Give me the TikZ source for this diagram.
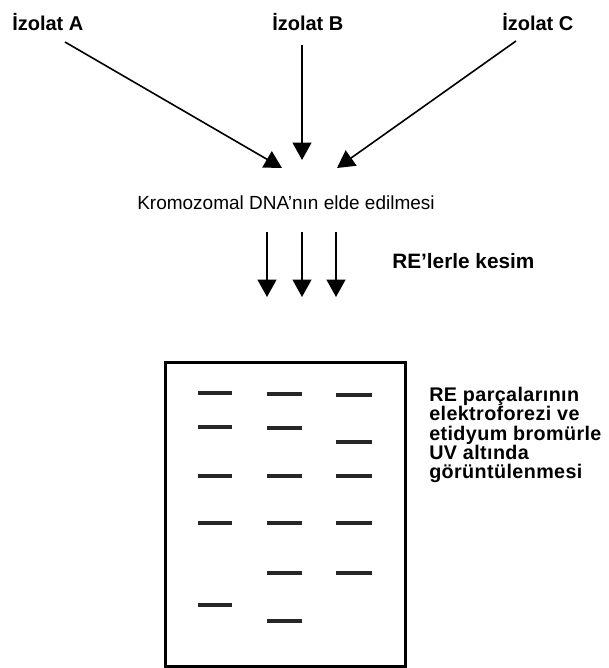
\documentclass[tikz,border=0pt]{standalone}
\usepackage{fontspec}
\setmainfont{Liberation Sans}
\newfontfamily\genisyazi{Liberation Sans}[LetterSpace=2]
\usetikzlibrary{arrows.meta}

\begin{document}
\begin{tikzpicture}[x=0.75pt,y=0.75pt,
    izolat/.style={inner sep=0pt,font=\fontsize{15pt}{18pt}\selectfont\bfseries},
    yazi/.style={inner sep=0pt,font=\fontsize{14.25pt}{17pt}\selectfont},
    kalin/.style={inner sep=0pt,font=\fontsize{15.6pt}{18pt}\selectfont\bfseries},
    aciklama/.style={inner sep=0pt,align=left,
        font=\genisyazi\fontsize{14.8pt}{14.6pt}\selectfont\bfseries},
    ok/.style={-{Triangle[length=13pt,width=14pt]},line width=1.5pt},
    bant/.style={line width=2.4pt,color=black!85}]
    \useasboundingbox (0,0) rectangle (608,-668);
    \node[izolat,anchor=base west] (A) at (12,-30) {İzolat A};
    \node[izolat,anchor=base west] (B) at (272,-30) {İzolat B};
    \node[izolat,anchor=base west] (C) at (502,-30) {İzolat C};
    \node[yazi,anchor=base west] (dna) at (137,-209) {Kromozomal DNA'nın elde edilmesi};
    \node[kalin,anchor=base west] (kesim) at (392,-268) {RE'lerle kesim};
    \node[aciklama,anchor=north west] (elfo) at (429,-386.5) {RE parçalarının\\elektroforezi ve\\etidyum bromürle\\UV altında\\görüntülenmesi};
    \coordinate (a1) at (65,-42);
    \coordinate (a2) at (282,-168);
    \coordinate (b1) at (302,-45);
    \coordinate (b2) at (302,-160);
    \coordinate (c1) at (516,-41);
    \coordinate (c2) at (337,-168);
    \draw[ok,line width=1.2pt] (a1) -- (a2);
    \draw[ok] (b1) -- (b2);
    \draw[ok,line width=1.2pt] (c1) -- (c2);
    \foreach \x in {267,302,336}
        \draw[ok] (\x,-232) -- (\x,-297);
    \draw[line width=2.25pt] (165,-362) rectangle (405,-666);
    \foreach \y in {393,427,476,523,605}
        \draw[bant] (198,-\y) -- (232,-\y);
    \foreach \y in {394,428,476,523,573,621}
        \draw[bant] (267,-\y) -- (302,-\y);
    \foreach \y in {395,442,476,523,573}
        \draw[bant] (336,-\y) -- (372,-\y);
\end{tikzpicture}
\end{document}
